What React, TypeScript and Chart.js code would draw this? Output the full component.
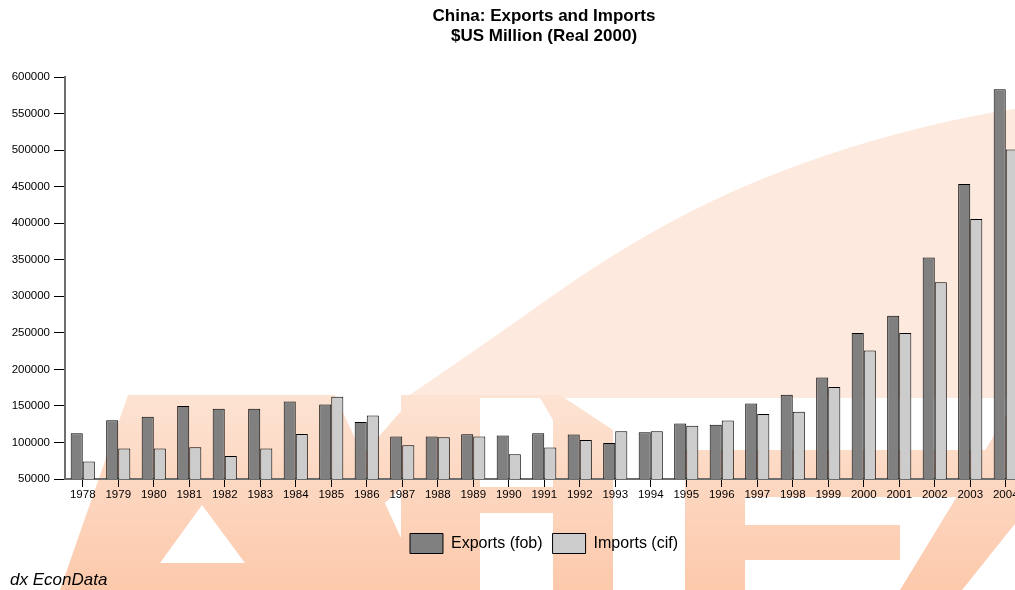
import React, { useEffect, useRef } from "react";
import { Chart, registerables } from "chart.js";

Chart.register(...registerables);

const FONT = '"Liberation Sans", Arial, Helvetica, sans-serif';

// Years on the category axis
const years = [
  "1978", "1979", "1980", "1981", "1982", "1983", "1984", "1985", "1986",
  "1987", "1988", "1989", "1990", "1991", "1992", "1993", "1994", "1995",
  "1996", "1997", "1998", "1999", "2000", "2001", "2002", "2003", "2004",
];

// $US million, real 2000 prices
const exportsFob = [
  112500, 130500, 135000, 150000, 146000, 146000, 156000, 152000, 128000,
  108300, 108300, 111300, 109500, 112500, 111000, 99200, 113800, 126000,
  124200, 153300, 165200, 188900, 249600, 273500, 352900, 453700, 583300,
];

const importsCif = [
  74000, 91700, 91700, 93500, 81500, 91700, 111600, 162500, 137000,
  96300, 107000, 108300, 84000, 93200, 103500, 115200, 115200, 123000,
  130000, 139000, 142000, 175700, 225800, 249600, 319200, 405800, 500700,
];

const titleLines = ["China: Exports and Imports", "$US Million (Real 2000)"];
const sourceNote = "dx EconData";

const yMin = 50000;
const yMax = 600000;
const yStep = 50000;

type Pt = [number, number];

function fillPoly(ctx: CanvasRenderingContext2D, pts: Pt[], style: string | CanvasGradient) {
  ctx.beginPath();
  ctx.moveTo(pts[0][0], pts[0][1]);
  for (let i = 1; i < pts.length; i++) ctx.lineTo(pts[i][0], pts[i][1]);
  ctx.closePath();
  ctx.fillStyle = style;
  ctx.fill();
}

// Faint logo artwork behind the bars
const backdrop = {
  id: "backdrop",
  beforeDraw(chart: any) {
    const { ctx, width, height } = chart;
    ctx.save();
    ctx.fillStyle = "#ffffff";
    ctx.fillRect(0, 0, width, height);

    // pale dome sweeping up to the right
    const rim: Pt[] = [
      [405, 398], [417, 390], [500, 333], [600, 262], [700, 205],
      [800, 163], [900, 132], [1000, 110], [1090, 100],
    ];
    ctx.beginPath();
    ctx.moveTo(rim[0][0], rim[0][1]);
    for (let i = 1; i < rim.length - 1; i++) {
      const mx = (rim[i][0] + rim[i + 1][0]) / 2;
      const my = (rim[i][1] + rim[i + 1][1]) / 2;
      ctx.quadraticCurveTo(rim[i][0], rim[i][1], mx, my);
    }
    ctx.lineTo(rim[rim.length - 1][0], rim[rim.length - 1][1]);
    ctx.lineTo(1090, 398);
    ctx.closePath();
    ctx.fillStyle = "#fde9dd";
    ctx.fill();

    // lettering band
    const g = ctx.createLinearGradient(0, 395, 0, 590);
    g.addColorStop(0, "#fde3d3");
    g.addColorStop(1, "#fcc9ab");
    // A
    fillPoly(ctx, [[128, 395], [335, 395], [425, 590], [60, 590]], g);
    fillPoly(ctx, [[160, 563], [202, 505], [245, 563]], "#ffffff");
    // diagonal stroke rising into the dome
    fillPoly(ctx, [[245, 590], [292, 590], [500, 395], [415, 395]], g);
    // B
    fillPoly(ctx, [[401, 395], [560, 395], [613, 430], [613, 590], [401, 590]], g);
    fillPoly(ctx, [[480, 398], [540, 398], [553, 420], [553, 487], [480, 487]], "#ffffff");
    fillPoly(ctx, [[480, 513], [553, 513], [553, 590], [480, 590]], "#ffffff");
    // E
    fillPoly(ctx, [[685, 450], [995, 450], [995, 497], [745, 497], [745, 525], [900, 525], [900, 560], [745, 560], [745, 590], [685, 590]], g);
    // R leg and stem
    fillPoly(ctx, [[900, 590], [962, 590], [1090, 430], [1090, 360], [1040, 360]], g);
    ctx.restore();
  },
  afterDraw(chart: any) {
    const { ctx } = chart;
    ctx.save();
    ctx.fillStyle = "#000000";
    ctx.font = `italic 17px ${FONT}`;
    ctx.textAlign = "left";
    ctx.textBaseline = "alphabetic";
    ctx.fillText(sourceNote, 10, 585);
    ctx.restore();
  },
};

export default function App() {
  const canvasRef = useRef<HTMLCanvasElement | null>(null);

  useEffect(() => {
    const canvas = canvasRef.current;
    if (!canvas) return;
    const chart = new Chart(canvas, {
      type: "bar",
      data: {
        labels: years,
        datasets: [
          {
            label: "Exports (fob)",
            data: exportsFob,
            backgroundColor: "#808080",
            borderColor: "#000000",
            borderWidth: 1,
            barPercentage: 1,
            categoryPercentage: 0.68,
          },
          {
            label: "Imports (cif)",
            data: importsCif,
            backgroundColor: "#cccccc",
            borderColor: "#000000",
            borderWidth: 1,
            barPercentage: 1,
            categoryPercentage: 0.68,
          },
        ],
      },
      options: {
        responsive: false,
        animation: false,
        devicePixelRatio: 1,
        layout: { padding: { left: 0, right: 0, top: 0, bottom: 26.5 } },
        plugins: {
          title: {
            display: true,
            text: titleLines,
            color: "#000000",
            font: { family: FONT, size: 17, weight: "bold", lineHeight: "20px" },
            padding: { top: 6, bottom: 31 },
          },
          legend: {
            position: "bottom",
            labels: {
              boxWidth: 33,
              boxHeight: 20,
              color: "#000000",
              padding: 10,
              font: { family: FONT, size: 16 },
            },
          },
          tooltip: { enabled: false },
        },
        scales: {
          x: {
            offset: true,
            grid: {
              offset: false,
              drawOnChartArea: false,
              drawTicks: true,
              tickLength: 8,
              tickColor: "#000000",
              tickWidth: 1,
            },
            border: { display: true, color: "#6e6e6e", width: 2 },
            ticks: {
              color: "#000000",
              font: { family: FONT, size: 11.5 },
              padding: 1,
              autoSkip: false,
              maxRotation: 0,
              minRotation: 0,
            },
            afterFit(scale: any) {
              scale.height = 44.5;
            },
          },
          y: {
            min: yMin,
            max: yMax,
            grid: {
              drawOnChartArea: false,
              drawTicks: true,
              tickLength: 11,
              tickColor: "#000000",
              tickWidth: 1,
            },
            border: { display: true, color: "#6e6e6e", width: 2 },
            ticks: {
              stepSize: yStep,
              color: "#000000",
              padding: 4,
              font: { family: FONT, size: 11.5 },
              callback: (v: any) => String(v),
            },
            afterFit(scale: any) {
              scale.width = 65;
            },
          },
          spacer: {
            position: "right",
            display: true,
            grid: { display: false },
            border: { display: false },
            ticks: { display: false },
            afterFit(scale: any) {
              scale.width = 64.5;
            },
          },
        },
      } as any,
      plugins: [backdrop],
    });
    return () => chart.destroy();
  }, []);

  return (
    <div
      style={{
        position: "absolute",
        left: 0,
        top: 0,
        width: 1015,
        height: 590,
        overflow: "hidden",
        background: "#ffffff",
      }}
    >
      <canvas ref={canvasRef} width={1088} height={590} style={{ display: "block" }} />
    </div>
  );
}
